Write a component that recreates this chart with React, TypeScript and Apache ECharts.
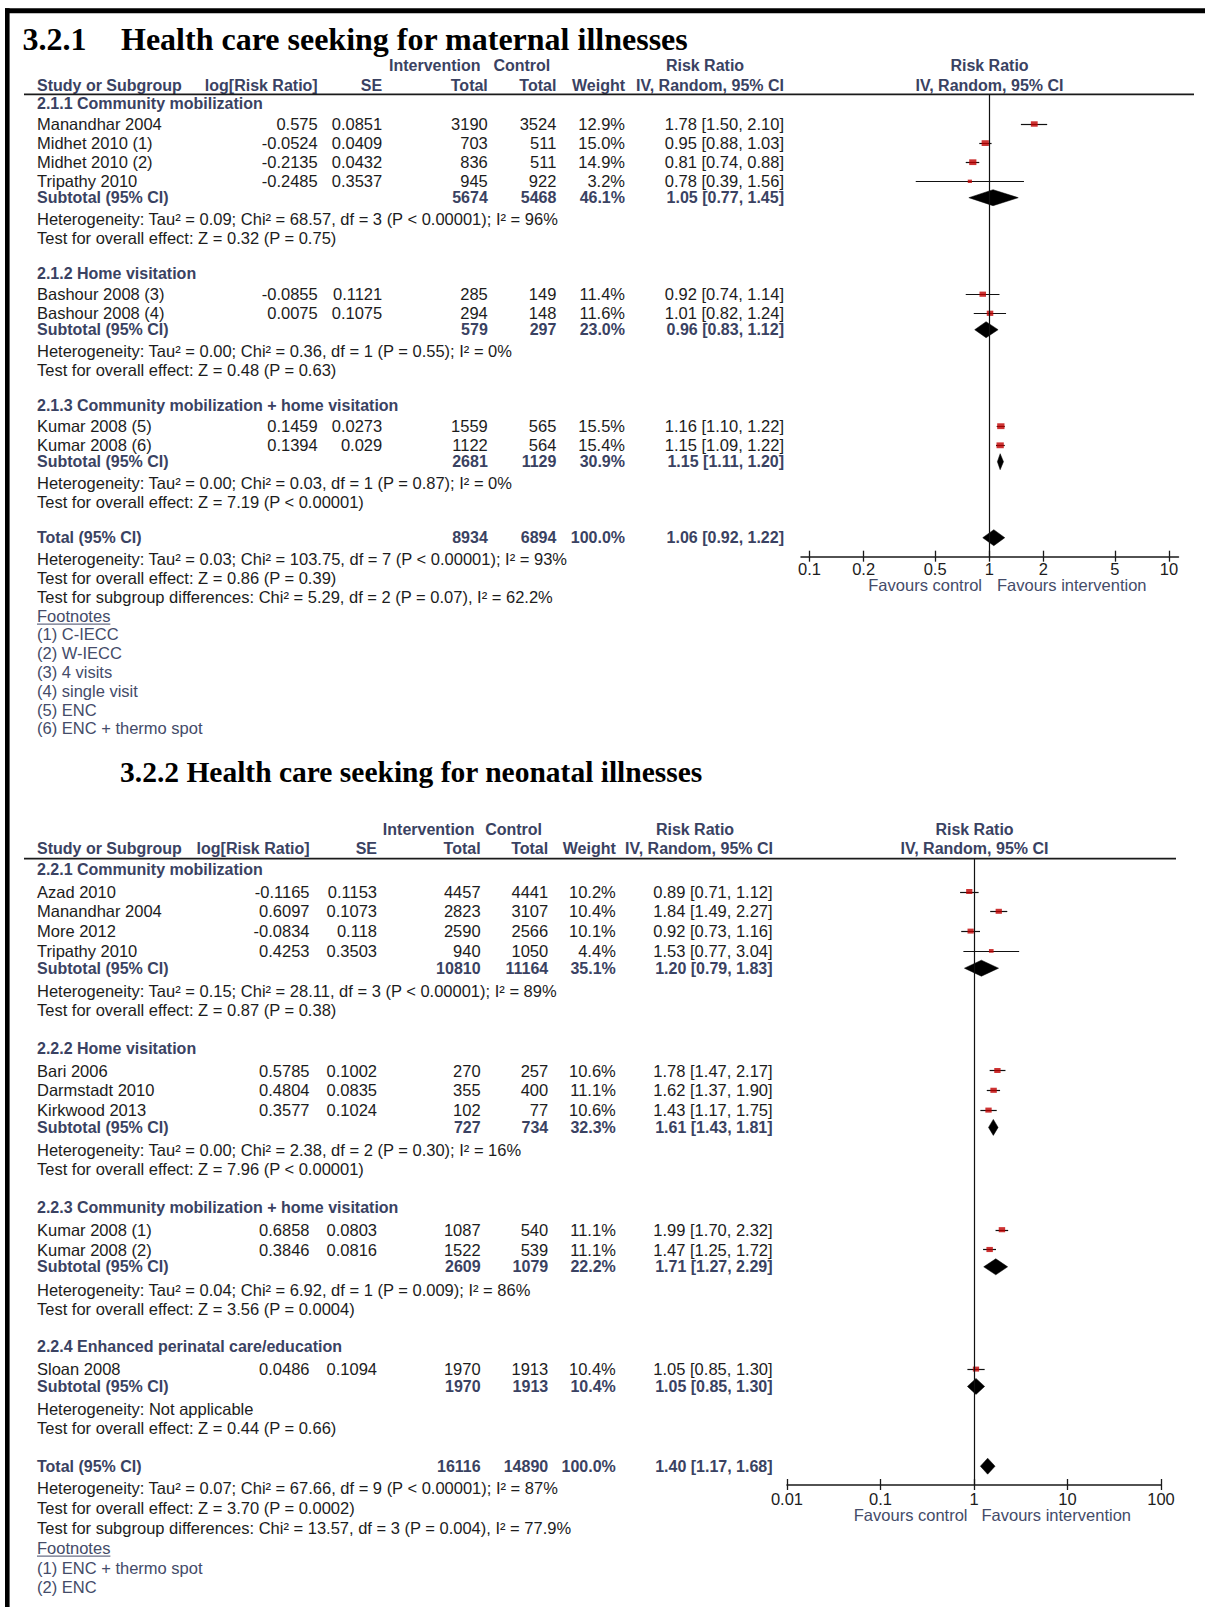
import React, { useEffect, useRef } from "react";
import * as echarts from "echarts";

const W = 1205;
const H = 1607;

// ================= 3.2.1 Health care seeking for maternal illnesses =================
const matTitleNum = "3.2.1";
const matTitle = "Health care seeking for maternal illnesses";
const matGroupNames = [
  "2.1.1 Community mobilization",
  "2.1.2 Home visitation",
  "2.1.3 Community mobilization + home visitation",
];
const matStudy = [
  "Manandhar 2004",
  "Midhet 2010 (1)",
  "Midhet 2010 (2)",
  "Tripathy 2010",
  "Bashour 2008 (3)",
  "Bashour 2008 (4)",
  "Kumar 2008 (5)",
  "Kumar 2008 (6)",
];
const matGroupOf = [0, 0, 0, 0, 1, 1, 2, 2];
const matLogRR = [0.575, -0.0524, -0.2135, -0.2485, -0.0855, 0.0075, 0.1459, 0.1394];
const matSE = [0.0851, 0.0409, 0.0432, 0.3537, 0.1121, 0.1075, 0.0273, 0.029];
const matInt = [3190, 703, 836, 945, 285, 294, 1559, 1122];
const matCtrl = [3524, 511, 511, 922, 149, 148, 565, 564];
const matWeight = [12.9, 15.0, 14.9, 3.2, 11.4, 11.6, 15.5, 15.4];
const matRR = [1.78, 0.95, 0.81, 0.78, 0.92, 1.01, 1.16, 1.15];
const matLo = [1.5, 0.88, 0.74, 0.39, 0.74, 0.82, 1.1, 1.09];
const matHi = [2.1, 1.03, 0.88, 1.56, 1.14, 1.24, 1.22, 1.22];
const matSubInt = [5674, 579, 2681];
const matSubCtrl = [5468, 297, 1129];
const matSubWeight = [46.1, 23.0, 30.9];
const matSubRR = [1.05, 0.96, 1.15];
const matSubLo = [0.77, 0.83, 1.11];
const matSubHi = [1.45, 1.12, 1.2];
const matSubHet = [
  "Heterogeneity: Tau² = 0.09; Chi² = 68.57, df = 3 (P < 0.00001); I² = 96%",
  "Heterogeneity: Tau² = 0.00; Chi² = 0.36, df = 1 (P = 0.55); I² = 0%",
  "Heterogeneity: Tau² = 0.00; Chi² = 0.03, df = 1 (P = 0.87); I² = 0%",
];
const matSubTest = [
  "Test for overall effect: Z = 0.32 (P = 0.75)",
  "Test for overall effect: Z = 0.48 (P = 0.63)",
  "Test for overall effect: Z = 7.19 (P < 0.00001)",
];
const matTotalCounts = [8934, 6894];
const matTotalWeight = 100.0;
const matTotalEst = [1.06, 0.92, 1.22];
const matTotalNotes = [
  "Heterogeneity: Tau² = 0.03; Chi² = 103.75, df = 7 (P < 0.00001); I² = 93%",
  "Test for overall effect: Z = 0.86 (P = 0.39)",
  "Test for subgroup differences: Chi² = 5.29, df = 2 (P = 0.07), I² = 62.2%",
];
const matFootnotes = [
  "(1) C-IECC",
  "(2) W-IECC",
  "(3) 4 visits",
  "(4) single visit",
  "(5) ENC",
  "(6) ENC + thermo spot",
];
const matTicks = [0.1, 0.2, 0.5, 1, 2, 5, 10];

// ================= 3.2.2 Health care seeking for neonatal illnesses =================
const neoTitle = "3.2.2 Health care seeking for neonatal illnesses";
const neoGroupNames = [
  "2.2.1 Community mobilization",
  "2.2.2 Home visitation",
  "2.2.3 Community mobilization + home visitation",
  "2.2.4 Enhanced perinatal care/education",
];
const neoStudy = [
  "Azad 2010",
  "Manandhar 2004",
  "More 2012",
  "Tripathy 2010",
  "Bari 2006",
  "Darmstadt 2010",
  "Kirkwood 2013",
  "Kumar 2008 (1)",
  "Kumar 2008 (2)",
  "Sloan 2008",
];
const neoGroupOf = [0, 0, 0, 0, 1, 1, 1, 2, 2, 3];
const neoLogRR = [-0.1165, 0.6097, -0.0834, 0.4253, 0.5785, 0.4804, 0.3577, 0.6858, 0.3846, 0.0486];
const neoSE = [0.1153, 0.1073, 0.118, 0.3503, 0.1002, 0.0835, 0.1024, 0.0803, 0.0816, 0.1094];
const neoInt = [4457, 2823, 2590, 940, 270, 355, 102, 1087, 1522, 1970];
const neoCtrl = [4441, 3107, 2566, 1050, 257, 400, 77, 540, 539, 1913];
const neoWeight = [10.2, 10.4, 10.1, 4.4, 10.6, 11.1, 10.6, 11.1, 11.1, 10.4];
const neoRR = [0.89, 1.84, 0.92, 1.53, 1.78, 1.62, 1.43, 1.99, 1.47, 1.05];
const neoLo = [0.71, 1.49, 0.73, 0.77, 1.47, 1.37, 1.17, 1.7, 1.25, 0.85];
const neoHi = [1.12, 2.27, 1.16, 3.04, 2.17, 1.9, 1.75, 2.32, 1.72, 1.3];
const neoSubInt = [10810, 727, 2609, 1970];
const neoSubCtrl = [11164, 734, 1079, 1913];
const neoSubWeight = [35.1, 32.3, 22.2, 10.4];
const neoSubRR = [1.2, 1.61, 1.71, 1.05];
const neoSubLo = [0.79, 1.43, 1.27, 0.85];
const neoSubHi = [1.83, 1.81, 2.29, 1.3];
const neoSubHet = [
  "Heterogeneity: Tau² = 0.15; Chi² = 28.11, df = 3 (P < 0.00001); I² = 89%",
  "Heterogeneity: Tau² = 0.00; Chi² = 2.38, df = 2 (P = 0.30); I² = 16%",
  "Heterogeneity: Tau² = 0.04; Chi² = 6.92, df = 1 (P = 0.009); I² = 86%",
  "Heterogeneity: Not applicable",
];
const neoSubTest = [
  "Test for overall effect: Z = 0.87 (P = 0.38)",
  "Test for overall effect: Z = 7.96 (P < 0.00001)",
  "Test for overall effect: Z = 3.56 (P = 0.0004)",
  "Test for overall effect: Z = 0.44 (P = 0.66)",
];
const neoTotalCounts = [16116, 14890];
const neoTotalWeight = 100.0;
const neoTotalEst = [1.4, 1.17, 1.68];
const neoTotalNotes = [
  "Heterogeneity: Tau² = 0.07; Chi² = 67.66, df = 9 (P < 0.00001); I² = 87%",
  "Test for overall effect: Z = 3.70 (P = 0.0002)",
  "Test for subgroup differences: Chi² = 13.57, df = 3 (P = 0.004), I² = 77.9%",
];
const neoFootnotes = ["(1) ENC + thermo spot", "(2) ENC"];
const neoTicks = [0.01, 0.1, 1, 10, 100];

// ================= styling =================
const SANS = '"Liberation Sans", Arial, sans-serif';
const SERIF = '"Liberation Serif", "Times New Roman", serif';
const FS = 16.5; // regular text
const FSB = 16; // bold text
const HEAD = "#3a4262";
const BODY = "#1c1c1c";
const FOOT = "#444b69";
const RED = "#c00000";

type Layout = {
  titleY: number;
  titleNumX: number | null;
  titleX: number;
  titleSize: number;
  h1: number;
  h2: number;
  lineY: number;
  lineX1: number;
  lineX2: number;
  sg0: number;
  sgToRow: number;
  rowStep: number;
  rowToSub: number;
  subToHet: number;
  hetToTest: number;
  testToNext: number;
  totalToHet: number;
  postStep: number;
  cStudy: number;
  cLog: number;
  cSE: number;
  cInt: number;
  cCtrl: number;
  cWeight: number;
  cRR: number;
  interventionRight: number;
  controlRight: number;
  rrHead1Center: number;
  rrHead2Center: number;
  plotCenter: number;
  axisY: number;
  gridLeft: number;
  gridWidth: number;
  xMin: number;
  xMax: number;
  favY: number;
  favGap: number;
  labelMargin: number;
};

const matLayout: Layout = {
  titleY: 39,
  titleNumX: 22.5,
  titleX: 121,
  titleSize: 32,
  h1: 65.6,
  h2: 85,
  lineY: 94.3,
  lineX1: 24,
  lineX2: 1194,
  sg0: 103.5,
  sgToRow: 20.5,
  rowStep: 19.1,
  rowToSub: 16.4,
  subToHet: 21.5,
  hetToTest: 18.5,
  testToNext: 36,
  totalToHet: 21.5,
  postStep: 18.8,
  cStudy: 37,
  cLog: 317.7,
  cSE: 382.2,
  cInt: 487.8,
  cCtrl: 556.4,
  cWeight: 625,
  cRR: 784,
  interventionRight: 480.6,
  controlRight: 550.3,
  rrHead1Center: 705,
  rrHead2Center: 710,
  plotCenter: 989.5,
  axisY: 556.7,
  gridLeft: 801,
  gridWidth: 377.5,
  xMin: -1 - 8.5 / 179.75,
  xMax: 1 + 9.5 / 179.75,
  favY: 585,
  favGap: 7.5,
  labelMargin: 4,
};

const neoLayout: Layout = {
  titleY: 771.6,
  titleNumX: null,
  titleX: 120,
  titleSize: 29.5,
  h1: 829,
  h2: 848.5,
  lineY: 858.7,
  lineX1: 24,
  lineX2: 1176,
  sg0: 869,
  sgToRow: 22.5,
  rowStep: 19.8,
  rowToSub: 17.3,
  subToHet: 22.8,
  hetToTest: 19.2,
  testToNext: 37.8,
  totalToHet: 21.7,
  postStep: 19.9,
  cStudy: 37,
  cLog: 309.5,
  cSE: 377,
  cInt: 480.6,
  cCtrl: 548.2,
  cWeight: 615.8,
  cRR: 772.6,
  interventionRight: 474.4,
  controlRight: 542,
  rrHead1Center: 695,
  rrHead2Center: 699,
  plotCenter: 974.5,
  axisY: 1485,
  gridLeft: 787,
  gridWidth: 374,
  xMin: -2,
  xMax: 2,
  favY: 1515,
  favGap: 7,
  labelMargin: 5,
};

type Panel = {
  titleNum: string | null;
  title: string;
  groups: string[];
  study: string[];
  groupOf: number[];
  logRR: number[];
  se: number[];
  nInt: number[];
  nCtrl: number[];
  weight: number[];
  rr: number[];
  lo: number[];
  hi: number[];
  subInt: number[];
  subCtrl: number[];
  subWeight: number[];
  subRR: number[];
  subLo: number[];
  subHi: number[];
  subHet: string[];
  subTest: string[];
  totalCounts: number[];
  totalWeight: number;
  totalEst: number[];
  totalNotes: string[];
  footnotes: string[];
  ticks: number[];
};

const panels: { d: Panel; L: Layout }[] = [
  {
    d: {
      titleNum: matTitleNum,
      title: matTitle,
      groups: matGroupNames,
      study: matStudy,
      groupOf: matGroupOf,
      logRR: matLogRR,
      se: matSE,
      nInt: matInt,
      nCtrl: matCtrl,
      weight: matWeight,
      rr: matRR,
      lo: matLo,
      hi: matHi,
      subInt: matSubInt,
      subCtrl: matSubCtrl,
      subWeight: matSubWeight,
      subRR: matSubRR,
      subLo: matSubLo,
      subHi: matSubHi,
      subHet: matSubHet,
      subTest: matSubTest,
      totalCounts: matTotalCounts,
      totalWeight: matTotalWeight,
      totalEst: matTotalEst,
      totalNotes: matTotalNotes,
      footnotes: matFootnotes,
      ticks: matTicks,
    },
    L: matLayout,
  },
  {
    d: {
      titleNum: null,
      title: neoTitle,
      groups: neoGroupNames,
      study: neoStudy,
      groupOf: neoGroupOf,
      logRR: neoLogRR,
      se: neoSE,
      nInt: neoInt,
      nCtrl: neoCtrl,
      weight: neoWeight,
      rr: neoRR,
      lo: neoLo,
      hi: neoHi,
      subInt: neoSubInt,
      subCtrl: neoSubCtrl,
      subWeight: neoSubWeight,
      subRR: neoSubRR,
      subLo: neoSubLo,
      subHi: neoSubHi,
      subHet: neoSubHet,
      subTest: neoSubTest,
      totalCounts: neoTotalCounts,
      totalWeight: neoTotalWeight,
      totalEst: neoTotalEst,
      totalNotes: neoTotalNotes,
      footnotes: neoFootnotes,
      ticks: neoTicks,
    },
    L: neoLayout,
  },
];

const fmtCI = (a: number, b: number, c: number) =>
  `${a.toFixed(2)} [${b.toFixed(2)}, ${c.toFixed(2)}]`;
const fmtW = (w: number) => `${w.toFixed(1)}%`;
const fmtTick = (v: number) => String(Number(Math.pow(10, v).toPrecision(6)));

function measure(text: string, font: string): number {
  const c = document.createElement("canvas");
  const ctx = c.getContext("2d");
  if (!ctx) return text.length * 8;
  ctx.font = font;
  return ctx.measureText(text).width;
}

function buildOption() {
  const graphics: any[] = [];
  const grids: any[] = [];
  const xAxes: any[] = [];
  const yAxes: any[] = [];
  const series: any[] = [];

  const txt = (
    text: string,
    x: number,
    y: number,
    o: { bold?: boolean; fill?: string; align?: string; size?: number; family?: string } = {}
  ) => {
    const align = o.align || "left";
    graphics.push({
      type: "text",
      x,
      y,
      silent: true,
      style: {
        text,
        fill: o.fill || BODY,
        fontSize: o.size || (o.bold ? FSB : FS),
        fontFamily: o.family || SANS,
        fontWeight: o.bold ? "bold" : "normal",
        align,
        verticalAlign: "middle",
        textAlign: align,
        textVerticalAlign: "middle",
      },
    });
  };

  // frame
  graphics.push({ type: "rect", silent: true, shape: { x: 5, y: 8.3, width: 1200, height: 5 }, style: { fill: "#000" } });
  graphics.push({ type: "rect", silent: true, shape: { x: 5, y: 8.3, width: 4.6, height: H - 8 }, style: { fill: "#000" } });

  panels.forEach(({ d, L }, pi) => {
    // titles
    if (d.titleNum) {
      txt(d.titleNum, L.titleNumX as number, L.titleY, { bold: true, family: SERIF, size: L.titleSize, fill: "#000" });
    }
    txt(d.title, L.titleX, L.titleY, { bold: true, family: SERIF, size: L.titleSize, fill: "#000" });

    // headers
    const hb = { bold: true, fill: HEAD };
    txt("Intervention", L.interventionRight, L.h1, { ...hb, align: "right" });
    txt("Control", L.controlRight, L.h1, { ...hb, align: "right" });
    txt("Risk Ratio", L.rrHead1Center, L.h1, { ...hb, align: "center" });
    txt("Risk Ratio", L.plotCenter, L.h1, { ...hb, align: "center" });
    txt("Study or Subgroup", L.cStudy, L.h2, hb);
    txt("log[Risk Ratio]", L.cLog, L.h2, { ...hb, align: "right" });
    txt("SE", L.cSE, L.h2, { ...hb, align: "right" });
    txt("Total", L.cInt, L.h2, { ...hb, align: "right" });
    txt("Total", L.cCtrl, L.h2, { ...hb, align: "right" });
    txt("Weight", L.cWeight, L.h2, { ...hb, align: "right" });
    txt("IV, Random, 95% CI", L.rrHead2Center, L.h2, { ...hb, align: "center" });
    txt("IV, Random, 95% CI", L.plotCenter, L.h2, { ...hb, align: "center" });
    graphics.push({
      type: "line",
      silent: true,
      shape: { x1: L.lineX1, y1: L.lineY, x2: L.lineX2, y2: L.lineY },
      style: { stroke: "#1a1a1a", lineWidth: 1.8 },
    });

    // rows
    const rowY: number[] = [];
    const subY: number[] = [];
    let y = L.sg0;
    d.groups.forEach((g, gi) => {
      txt(g, L.cStudy, y, hb);
      let ry = y + L.sgToRow;
      const idx = d.study.map((_, i) => i).filter((i) => d.groupOf[i] === gi);
      idx.forEach((i, k) => {
        if (k > 0) ry += L.rowStep;
        rowY[i] = ry;
        txt(d.study[i], L.cStudy, ry);
        txt(String(d.logRR[i]), L.cLog, ry, { align: "right" });
        txt(String(d.se[i]), L.cSE, ry, { align: "right" });
        txt(String(d.nInt[i]), L.cInt, ry, { align: "right" });
        txt(String(d.nCtrl[i]), L.cCtrl, ry, { align: "right" });
        txt(fmtW(d.weight[i]), L.cWeight, ry, { align: "right" });
        txt(fmtCI(d.rr[i], d.lo[i], d.hi[i]), L.cRR, ry, { align: "right" });
      });
      const sy = ry + L.rowToSub;
      subY[gi] = sy;
      txt("Subtotal (95% CI)", L.cStudy, sy, hb);
      txt(String(d.subInt[gi]), L.cInt, sy, { ...hb, align: "right" });
      txt(String(d.subCtrl[gi]), L.cCtrl, sy, { ...hb, align: "right" });
      txt(fmtW(d.subWeight[gi]), L.cWeight, sy, { ...hb, align: "right" });
      txt(fmtCI(d.subRR[gi], d.subLo[gi], d.subHi[gi]), L.cRR, sy, { ...hb, align: "right" });
      const hy = sy + L.subToHet;
      txt(d.subHet[gi], L.cStudy, hy);
      const ty = hy + L.hetToTest;
      txt(d.subTest[gi], L.cStudy, ty);
      y = ty + L.testToNext;
    });
    const totY = y;
    txt("Total (95% CI)", L.cStudy, totY, hb);
    txt(String(d.totalCounts[0]), L.cInt, totY, { ...hb, align: "right" });
    txt(String(d.totalCounts[1]), L.cCtrl, totY, { ...hb, align: "right" });
    txt(fmtW(d.totalWeight), L.cWeight, totY, { ...hb, align: "right" });
    txt(fmtCI(d.totalEst[0], d.totalEst[1], d.totalEst[2]), L.cRR, totY, { ...hb, align: "right" });
    let py = totY + L.totalToHet;
    d.totalNotes.forEach((n) => {
      txt(n, L.cStudy, py);
      py += L.postStep;
    });
    txt("Footnotes", L.cStudy, py, { fill: FOOT });
    const fw = measure("Footnotes", `${FS}px ${SANS}`);
    graphics.push({
      type: "line",
      silent: true,
      shape: { x1: L.cStudy, y1: py + 8.5, x2: L.cStudy + fw, y2: py + 8.5 },
      style: { stroke: FOOT, lineWidth: 1 },
    });
    py += L.postStep;
    d.footnotes.forEach((f) => {
      txt(f, L.cStudy, py, { fill: FOOT });
      py += L.postStep;
    });

    // favours
    txt("Favours control", L.plotCenter - L.favGap, L.favY, { fill: FOOT, align: "right" });
    txt("Favours intervention", L.plotCenter + L.favGap, L.favY, { fill: FOOT, align: "left" });

    // ---------- forest plot ----------
    grids.push({
      left: L.gridLeft,
      top: L.lineY,
      width: L.gridWidth,
      height: L.axisY - L.lineY,
      containLabel: false,
    });
    const tickVals = d.ticks.map((t) => Math.log10(t));
    xAxes.push({
      type: "value",
      gridIndex: pi,
      position: "bottom",
      min: L.xMin,
      max: L.xMax,
      axisLine: { show: true, onZero: false, lineStyle: { color: "#1a1a1a", width: 1.5 } },
      axisTick: { show: true, inside: false, length: 5, customValues: tickVals, lineStyle: { color: "#1a1a1a", width: 1.3 } },
      axisLabel: {
        show: true,
        customValues: tickVals,
        margin: L.labelMargin,
        fontSize: FS,
        fontFamily: SANS,
        color: BODY,
        formatter: (v: number) => fmtTick(v),
      },
      splitLine: { show: false },
    });
    xAxes.push({
      type: "value",
      gridIndex: pi,
      position: "bottom",
      min: L.xMin,
      max: L.xMax,
      axisLine: { show: false, onZero: false },
      axisTick: { show: true, inside: true, length: 6, customValues: tickVals, lineStyle: { color: "#1a1a1a", width: 1.3 } },
      axisLabel: { show: false },
      splitLine: { show: false },
    });
    yAxes.push({
      type: "value",
      gridIndex: pi,
      min: L.lineY,
      max: L.axisY,
      inverse: true,
      show: false,
      splitLine: { show: false },
    });

    const xi = pi * 2;
    // confidence intervals
    series.push({
      type: "custom",
      xAxisIndex: xi,
      yAxisIndex: pi,
      silent: true,
      z: 2,
      data: d.study.map((_, i) => [Math.log10(d.lo[i]), Math.log10(d.hi[i]), rowY[i]]),
      renderItem: (_p: any, api: any) => {
        const a = api.coord([api.value(0), api.value(2)]);
        const b = api.coord([api.value(1), api.value(2)]);
        return {
          type: "line",
          shape: { x1: a[0], y1: Math.round(a[1]) + 0.5, x2: b[0], y2: Math.round(b[1]) + 0.5 },
          style: { stroke: "#111", lineWidth: 1.2 },
        };
      },
      markLine: {
        silent: true,
        symbol: "none",
        label: { show: false },
        lineStyle: { color: "#111", width: 1.2, type: "solid" },
        data: [{ xAxis: 0 }],
      },
    });
    // study squares (area by weight)
    series.push({
      type: "scatter",
      xAxisIndex: xi,
      yAxisIndex: pi,
      silent: true,
      z: 3,
      symbol: "rect",
      symbolSize: (v: number[]) => {
        const s = 1.45 * Math.sqrt(v[2]) + 1.6;
        return [s, s * 0.8];
      },
      itemStyle: { color: RED },
      data: d.study.map((_, i) => [Math.log10(d.rr[i]), rowY[i], d.weight[i]]),
    });
    // diamonds for subtotals and total
    const diamonds = d.groups.map((_, gi) => [
      Math.log10(d.subLo[gi]),
      Math.log10(d.subRR[gi]),
      Math.log10(d.subHi[gi]),
      subY[gi],
    ]);
    diamonds.push([
      Math.log10(d.totalEst[1]),
      Math.log10(d.totalEst[0]),
      Math.log10(d.totalEst[2]),
      totY,
    ]);
    series.push({
      type: "custom",
      xAxisIndex: xi,
      yAxisIndex: pi,
      silent: true,
      z: 3,
      data: diamonds,
      renderItem: (_p: any, api: any) => {
        const yv = api.value(3);
        const l = api.coord([api.value(0), yv]);
        const c = api.coord([api.value(1), yv]);
        const r = api.coord([api.value(2), yv]);
        const h = 8;
        return {
          type: "polygon",
          shape: {
            points: [
              [l[0], l[1]],
              [c[0], c[1] - h],
              [r[0], r[1]],
              [c[0], c[1] + h],
            ],
          },
          style: { fill: "#000", stroke: "#000", lineWidth: 0.5 },
        };
      },
    });
  });

  return {
    animation: false,
    backgroundColor: "#ffffff",
    grid: grids,
    xAxis: xAxes,
    yAxis: yAxes,
    series,
    graphic: { elements: graphics },
  };
}

export default function App() {
  const ref = useRef<HTMLDivElement>(null);
  useEffect(() => {
    if (!ref.current) return;
    const chart = echarts.init(ref.current, null, { renderer: "svg", width: W, height: H });
    chart.setOption(buildOption() as any);
    return () => {
      chart.dispose();
    };
  }, []);
  return (
    <div
      ref={ref}
      style={{ position: "absolute", left: 0, top: 0, width: W, height: H, background: "#fff" }}
    />
  );
}
